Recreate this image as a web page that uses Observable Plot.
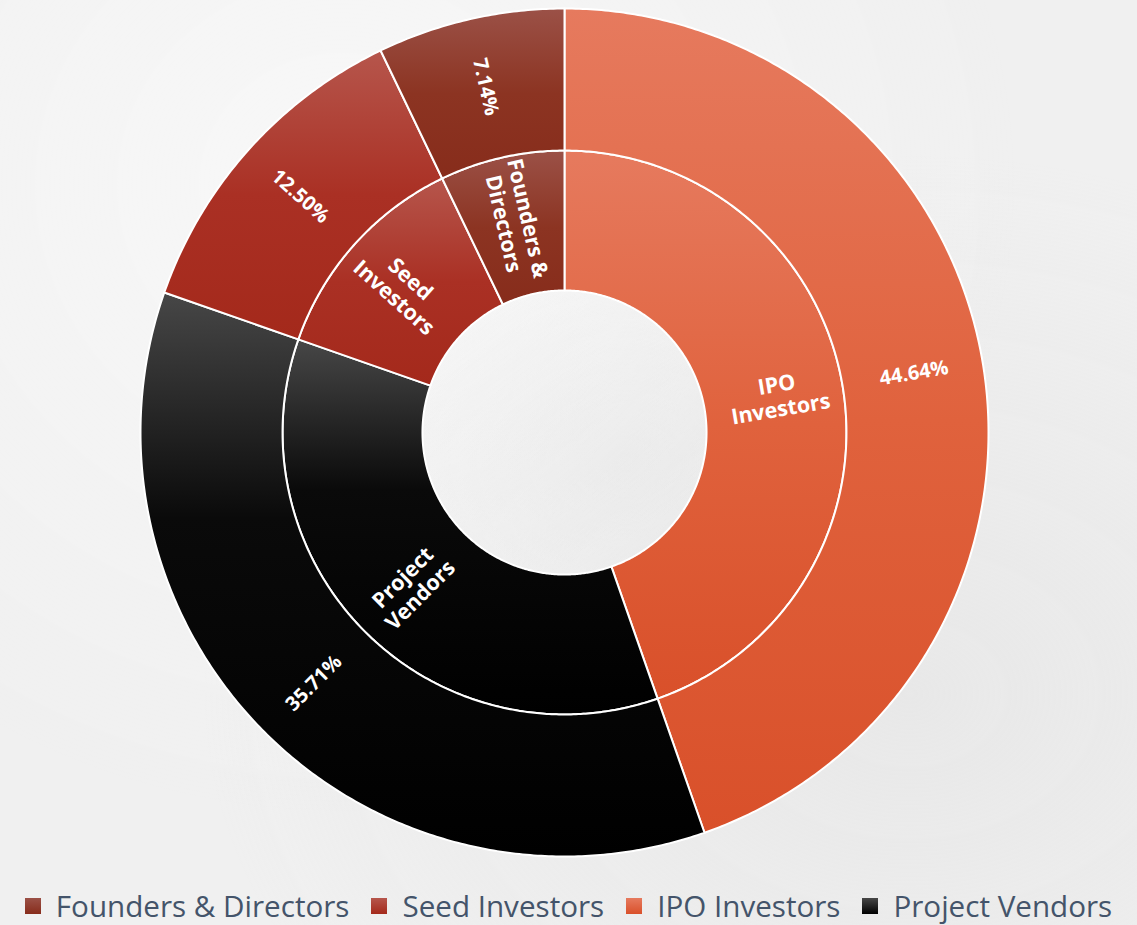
<!DOCTYPE html>
<html>
<head>
<meta charset="utf-8">
<script src="https://cdn.jsdelivr.net/npm/d3@7"></script>
<script src="https://cdn.jsdelivr.net/npm/@observablehq/plot@0.6"></script>
<style>
  html, body { margin: 0; padding: 0; }
  body {
    width: 1137px; height: 925px; overflow: hidden;
    background:
      radial-gradient(ellipse at 30% 20%, rgba(255,255,255,0.55), rgba(255,255,255,0) 60%),
      radial-gradient(ellipse at 55% 50%, rgba(226,226,226,0.6), rgba(226,226,226,0) 30%),
      radial-gradient(ellipse at 80% 75%, rgba(225,225,225,0.5), rgba(225,225,225,0) 55%),
      #f0f0f0;
    font-family: "Open Sans", "Noto Sans", sans-serif;
  }
  #chart { position: absolute; left: 0; top: 0; }
  #legend {
    position: absolute; left: 0; top: 884px; width: 1137px; height: 44px;
    display: flex; justify-content: center; align-items: center; gap: 22px;
    font-size: 29.6px; line-height: 1.3; color: #44546a; white-space: nowrap;
  }
  .item { display: flex; align-items: center; }
  .sw { width: 16px; height: 16px; margin-right: 15px; }
</style>
</head>
<body>
<div id="chart"></div>
<div id="legend"></div>
<script>
// ---- data (clockwise from 12 o'clock) ----
const categories = ["IPO Investors", "Project Vendors", "Seed Investors", "Founders & Directors"];
const shares = [44.64, 35.71, 12.50, 7.14];
const innerLabels = ["IPO\nInvestors", "Project\nVendors", "Seed\nInvestors", "Founders &\nDirectors"];
const outerLabels = ["44.64%", "35.71%", "12.50%", "7.14%"];
const legendOrder = ["Founders & Directors", "Seed Investors", "IPO Investors", "Project Vendors"];
const topColors = ["#e67a5e", "#474747", "#b6564c", "#9b5147"];
const midColors = ["#e0623d", "#0a0a0a", "#aa3024", "#8c3422"];
const baseColors = ["#d9502a", "#000000", "#a4291b", "#872c1b"];

// ring radii in data units (outer radius = 1)
const rings = [{ring: "inner", r0: 0.335, r1: 0.665}, {ring: "outer", r0: 0.665, r1: 1}];

const total = d3.sum(shares);
let acc = 0;
const slices = categories.map((c, i) => {
  const a0 = acc / total * 360;
  acc += shares[i];
  const a1 = acc / total * 360;
  return {cat: c, i, a0, a1, mid: (a0 + a1) / 2};
});

const rad = d => d * Math.PI / 180;
const poly = [];
for (const rg of rings) {
  for (const s of slices) {
    const key = rg.ring + "|" + s.cat;
    const n = Math.max(8, Math.ceil((s.a1 - s.a0) / 0.5));
    for (let k = 0; k <= n; k++) {
      const a = s.a0 + (s.a1 - s.a0) * k / n;
      poly.push({key, cat: s.cat, x: rg.r1 * Math.sin(rad(a)), y: rg.r1 * Math.cos(rad(a))});
    }
    for (let k = n; k >= 0; k--) {
      const a = s.a0 + (s.a1 - s.a0) * k / n;
      poly.push({key, cat: s.cat, x: rg.r0 * Math.sin(rad(a)), y: rg.r0 * Math.cos(rad(a))});
    }
  }
}

const rotFor = m => (m < 180 ? m - 90 : m - 270);
const labels = [];
slices.forEach(s => {
  const ri = 0.512, ro = 0.836;
  labels.push({ring: "inner", text: innerLabels[s.i], x: ri * Math.sin(rad(s.mid)), y: ri * Math.cos(rad(s.mid)), rot: rotFor(s.mid)});
  labels.push({ring: "outer", text: outerLabels[s.i], x: ro * Math.sin(rad(s.mid)), y: ro * Math.cos(rad(s.mid)), rot: rotFor(s.mid)});
});

const cx = 564, cy = 432, R = 424;
const svg = Plot.plot({
  width: 1137,
  height: 880,
  margin: 0,
  style: {background: "transparent", overflow: "visible"},
  x: {domain: [-1, 1], range: [cx - R, cx + R], axis: null},
  y: {domain: [-1, 1], range: [cy + R, cy - R], axis: null},
  color: {type: "ordinal", domain: categories, range: categories.map((c, i) => `url(#grad${i})`)},
  marks: [
    Plot.line(poly, {x: "x", y: "y", z: "key", fill: "cat", stroke: "white", strokeWidth: 2, curve: "linear-closed", strokeLinejoin: "round"}),
    Plot.text(labels.filter(d => d.ring === "inner"), {x: "x", y: "y", text: "text", rotate: "rot", fill: "white", fontSize: 21.5, fontWeight: 700, lineHeight: 1.15, fontFamily: "Open Sans"}),
    Plot.text(labels.filter(d => d.ring === "outer"), {x: "x", y: "y", text: "text", rotate: "rot", fill: "white", fontSize: 20, fontWeight: 700, fontFamily: "Open Sans"})
  ]
});

const defs = d3.select(svg).insert("defs", ":first-child");
categories.forEach((c, i) => {
  const g = defs.append("linearGradient").attr("id", `grad${i}`)
    .attr("x1", 0).attr("y1", 0).attr("x2", 0).attr("y2", 1);
  g.append("stop").attr("offset", "0%").attr("stop-color", topColors[i]);
  g.append("stop").attr("offset", i === 1 ? "40%" : "50%").attr("stop-color", midColors[i]);
  g.append("stop").attr("offset", "100%").attr("stop-color", baseColors[i]);
});
document.getElementById("chart").appendChild(svg);

const legend = d3.select("#legend");
legendOrder.forEach(c => {
  const i = categories.indexOf(c);
  const it = legend.append("div").attr("class", "item");
  it.append("div").attr("class", "sw")
    .style("background", `linear-gradient(${topColors[i]}, ${baseColors[i]})`);
  it.append("span").text(c);
});
</script>
</body>
</html>
